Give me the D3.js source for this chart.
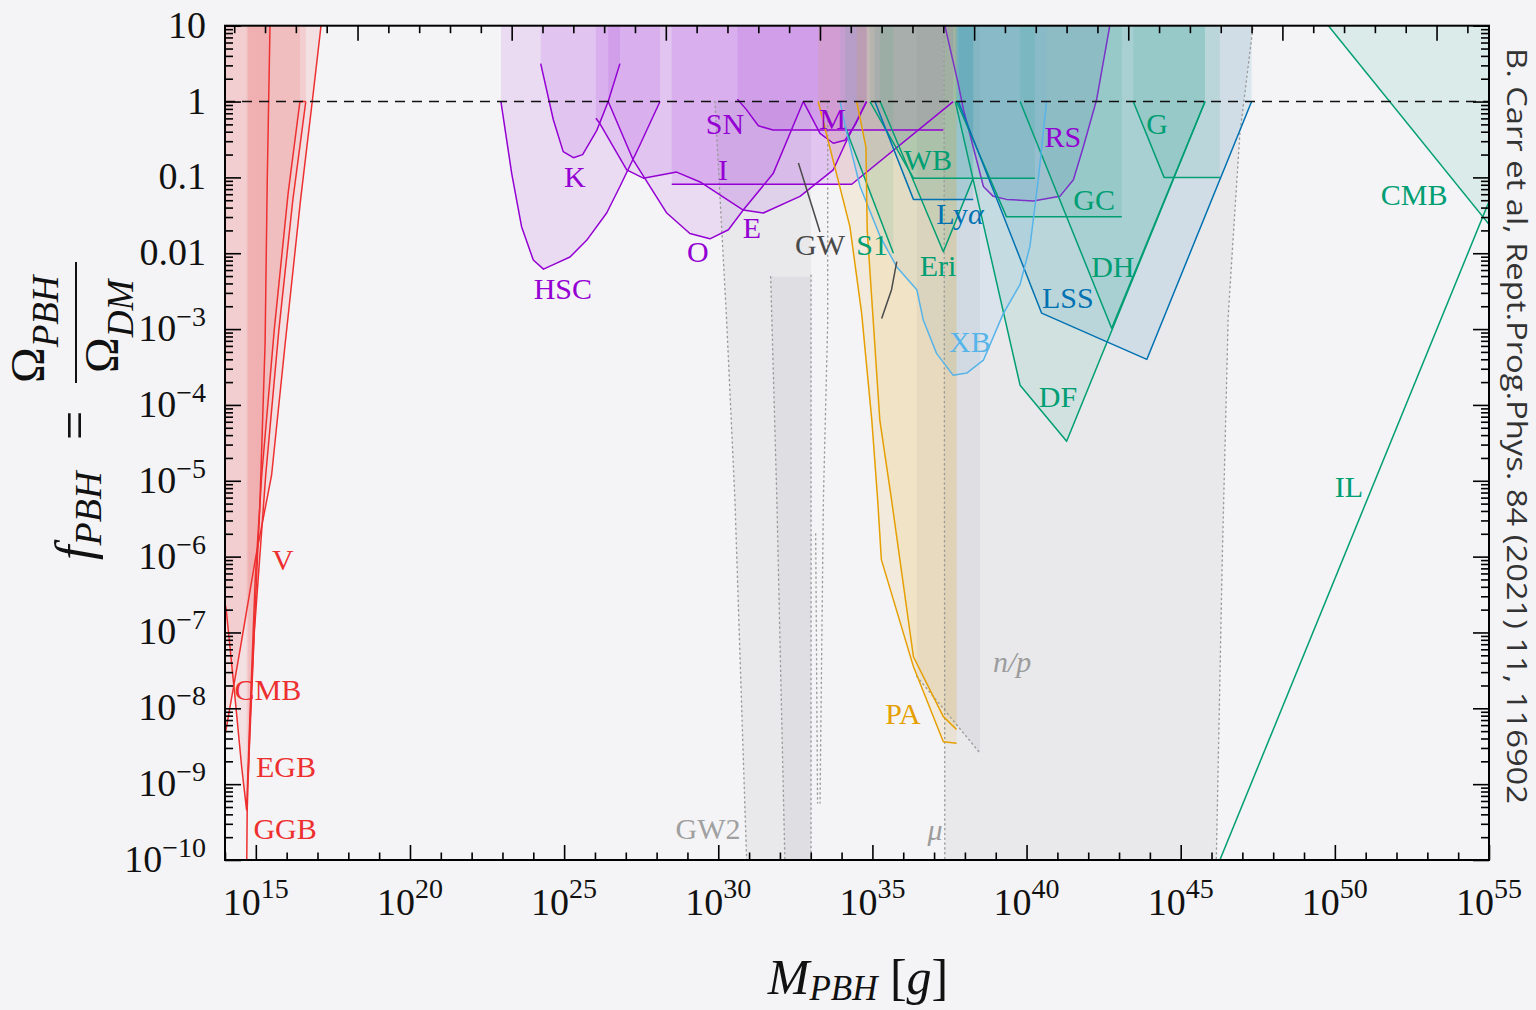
<!DOCTYPE html>
<html>
<head>
<meta charset="utf-8">
<script src="https://cdn.jsdelivr.net/npm/d3@7/dist/d3.min.js"></script>
<style>
  body { margin: 0; background: #f4f4f6; }
  svg { display: block; font-family: "Liberation Serif", "Times New Roman", serif; }
</style>
</head>
<body>
<svg id="chart" width="1536" height="1010"></svg>
<script>
// all points are [log10(M / g), log10(f_PBH)]

// evaporation (red)
var evGGB = [[14.70,-10.3],[14.72,-9.34],[14.81,-8.20],[14.97,-6.77],[15.13,-5.34],[15.30,-3.20],[15.37,-1.06],[15.46,1],[15.47,1.3]];
var evEGB = [[13.9,-6.4],[14.04,-6.70],[14.32,-7.84],[14.54,-8.77],[14.70,-9.34],[14.80,-8.2],[14.98,-6.3],[15.19,-4.93],[15.6,-3.0],[16.05,-1.2],[16.43,0]];
var evCMB = [[14.75,-8.9],[14.95,-7.0],[15.32,-4.93],[15.75,-3.0],[16.2,-1.3],[16.62,0]];
var evV = [[13.95,-8.45],[14.03,-8.29],[14.5,-7.2],[15.0,-6.0],[15.51,-4.93],[15.95,-3.2],[16.45,-1.3],[16.83,0],[17.2,1.3]];
var evCap = [[16.43,0],[16.62,0]];

// lensing (purple)
var lnHSC = [[22.95,0],[23.30,-0.95],[23.62,-1.65],[24.0,-2.09],[24.33,-2.21],[24.65,-2.15],[25.19,-2.05],[25.73,-1.83],[26.38,-1.47],[26.81,-1.12],[27.45,-0.58],[28.11,0]];
var lnK = [[24.24,0.5],[24.65,-0.24],[24.97,-0.66],[25.30,-0.74],[25.60,-0.70],[26.06,-0.38],[26.43,0],[26.81,0.5]];
var lnE = [[26.03,-0.22],[26.16,-0.29],[27.03,-0.90],[27.57,-1.01],[28.65,-0.93],[29.41,-1.06],[30.81,-1.43],[31.46,-1.47],[32.65,-1.25],[33.73,-0.90],[34.17,-0.51],[34.81,0]];
var lnO = [[26.43,0],[27.24,-0.77],[28.33,-1.47],[29.08,-1.74],[29.73,-1.81],[30.33,-1.69],[30.81,-1.43],[31.78,-0.95],[32.76,0]];
var lnM = [[32.76,0],[33.30,-0.42],[33.73,-0.55],[34.11,-0.51],[34.45,-0.30],[34.81,0]];
var lnSN = [[30.62,0.03],[30.9,-0.1],[31.30,-0.32],[31.78,-0.375],[37.30,-0.375]];
var lnI = [[28.49,-1.09],[34.33,-1.09],[37.62,0]];
var lnRS = [[37.35,1],[37.78,0.24],[37.95,-0.1],[38.27,-0.60],[38.60,-1.12],[38.92,-1.25],[39.35,-1.29],[40.22,-1.31],[41.08,-1.25],[41.52,-1.03],[41.84,-0.60],[42.27,0.02],[42.70,1],[42.75,1.3]];

// dynamical / other (green, blue)
var dyS1 = [[34.11,-0.33],[35.68,-2.0]];
var dyWB = [[34.92,0],[36.33,-1.01],[40.27,-1.01]];
var dyEri = [[35.25,0],[37.30,-1.98],[38.27,-1.01]];
var dyGC = [[37.73,0],[39.35,-1.52],[43.09,-1.52]];
var dyDH = [[39.79,0],[42.76,-2.99],[45.79,0]];
var dyDF = [[37.69,0],[39.79,-3.74],[41.30,-4.48],[45.79,0]];
var dyG = [[43.46,0],[44.46,-1.0],[46.27,-1.0]];
var cmbHigh = [[49.59,1.1],[55.2,-1.72]];
var ilLine = [[46.1,-10.17],[55.2,-1.12]];
var lyA = [[35.08,0],[36.33,-1.29],[38.27,-1.29]];
var lss = [[37.79,0],[40.49,-2.79],[43.90,-3.40],[47.30,0]];

// X-ray binaries (light blue)
var xb = [[33.95,0],[34.17,-0.42],[34.60,-1.12],[35.25,-1.78],[35.79,-2.18],[36.44,-2.48],[36.65,-2.88],[37.08,-3.32],[37.62,-3.61],[38.06,-3.58],[38.60,-3.41],[39.24,-2.80],[39.79,-2.41],[40.11,-1.91],[40.38,-1.03],[40.65,0]];

// accretion (orange)
var paA = [[33.24,0],[34.27,-1.65],[34.65,-2.79],[34.98,-4.20],[35.17,-5.25],[35.29,-6.04],[36.33,-7.45],[37.30,-8.44],[37.73,-8.46]];
var paB = [[34.49,0],[34.79,-0.60],[34.83,-1.69],[35.24,-4.20],[35.62,-5.25],[36.33,-7.32],[37.30,-8.11],[37.73,-8.28]];

// gravitational waves (dark grey lines)
var gwA = [[32.60,-0.81],[33.30,-1.72]];
var gwB = [[35.79,-2.11],[35.62,-2.48],[35.30,-2.86]];

// grey dotted regions
var gw2Left = [[29.89,0],[30.27,-2.88],[30.54,-5.25],[30.92,-10],[30.93,-10.3]];
var gw2Mid = [[31.70,-2.31],[31.90,-5.25],[32.16,-10],[32.17,-10.3]];
var gw2Edge = [[33.01,-2.29],[33.01,-10.3]];
var gw2Far = [[33.55,0],[33.55,-2.9],[33.41,-5.25],[33.30,-9.25]];
var gw2Inner = [[33.16,-5.7],[33.22,-9.25]];
var muEdge = [[37.32,1.3],[37.35,-10.3]];
var npEdge = [[46.14,-10.3],[46.35,-6],[46.54,-2.84],[46.71,-1.74],[46.92,-0.42],[47.35,1],[47.4,1.3]];
var npDiag = [[36.44,-7.58],[38.49,-8.59]];

var RED = "#ee2f2f", PUR = "#9400d3", RSC = "#7b32c9", GRN = "#009e73", BLU = "#0072b2",
    LBL = "#56b4e9", ORA = "#e69f00", GRY = "#9b9b9b", DGR = "#4a4a4a";

var svg = d3.select("#chart");
var x = d3.scaleLog().domain([1e14, 1e55]).range([225, 1489]);
var y = d3.scaleLog().domain([1e-10, 10]).range([860, 25.7]);
function X(d) { return x(Math.pow(10, d[0])); }
function Y(d) { return y(Math.pow(10, d[1])); }
var line = d3.line().x(X).y(Y);
var TOP = 1.3;
function toTop(p) { return p.concat([[p[p.length - 1][0], TOP], [p[0][0], TOP]]); }

svg.append("rect").attr("width", 1536).attr("height", 1010).attr("fill", "#f4f4f6");
svg.append("clipPath").attr("id", "plotclip").append("rect")
  .attr("x", 225).attr("y", 25.7).attr("width", 1264).attr("height", 834.3);
var plot = svg.append("g").attr("clip-path", "url(#plotclip)");

// grey regions
var greyAreas = [
  gw2Left.concat([[33.01,-10.3],[33.01,0]]),
  gw2Mid.concat([[33.01,-10.3],[33.01,-2.31]]),
  muEdge.concat(npEdge),
  npDiag.concat([[38.49,TOP],[36.44,TOP]])
];
plot.selectAll(".grey").data(greyAreas).enter().append("path")
  .attr("d", function(d) { return line(d) + "Z"; })
  .attr("fill", "#9a9aa2").attr("fill-opacity", 0.12);

// coloured exclusion regions
var curves = [
  { p: evGGB, c: RED }, { p: evEGB, c: RED }, { p: evCMB, c: RED }, { p: evV, c: RED },
  { p: lnHSC, c: PUR }, { p: lnK, c: PUR }, { p: lnE, c: PUR }, { p: lnO, c: PUR },
  { p: lnM, c: PUR }, { p: lnSN, c: PUR }, { p: lnI, c: PUR }, { p: lnRS, c: RSC },
  { p: dyS1, c: GRN }, { p: dyWB, c: GRN }, { p: dyEri, c: GRN }, { p: dyGC, c: GRN },
  { p: dyDH, c: GRN }, { p: dyDF, c: GRN }, { p: dyG, c: GRN },
  { p: lyA, c: BLU }, { p: lss, c: BLU }, { p: xb, c: LBL },
  { p: paA, c: ORA }, { p: paB, c: ORA }
];
plot.selectAll(".fill").data(curves).enter().append("path")
  .attr("d", function(d) { return line(toTop(d.p)) + "Z"; })
  .attr("fill", function(d) { return d.c; })
  .attr("fill-opacity", 0.1);
plot.append("path")
  .attr("d", line(cmbHigh.concat([[55.2, TOP], [49.59, TOP]])) + "Z")
  .attr("fill", GRN).attr("fill-opacity", 0.1);

// dotted boundaries
[gw2Left, gw2Mid, gw2Edge, gw2Far, gw2Inner, muEdge, npEdge, npDiag].forEach(function(p) {
  plot.append("path").attr("d", line(p)).attr("fill", "none")
    .attr("stroke", GRY).attr("stroke-width", 1.4)
    .attr("stroke-dasharray", "1.2,3.6").attr("stroke-linecap", "round");
});

// constraint curves
plot.selectAll(".curve").data(curves.concat([
    { p: evCap, c: RED }, { p: cmbHigh, c: GRN }, { p: ilLine, c: GRN },
    { p: gwA, c: DGR }, { p: gwB, c: DGR }
  ])).enter().append("path")
  .attr("d", function(d) { return line(d.p); })
  .attr("fill", "none")
  .attr("stroke", function(d) { return d.c; })
  .attr("stroke-width", 1.5)
  .attr("stroke-linejoin", "round");

// f = 1 line
plot.append("line")
  .attr("x1", 225).attr("x2", 1489).attr("y1", y(1)).attr("y2", y(1))
  .attr("stroke", "#111").attr("stroke-width", 1.5).attr("stroke-dasharray", "10,7");

// region labels [text, log10 M, log10 f, colour, style]
var labels = [
  ["V", 15.88, -6.18, RED], ["CMB", 15.39, -7.89, RED], ["EGB", 15.98, -8.91, RED], ["GGB", 15.95, -9.72, RED],
  ["HSC", 24.96, -2.60, PUR], ["K", 25.35, -1.13, PUR], ["SN", 30.22, -0.43, PUR], ["I", 30.15, -1.03, PUR],
  ["O", 29.34, -2.12, PUR], ["E", 31.09, -1.80, PUR], ["M", 33.71, -0.36, PUR], ["RS", 41.18, -0.60, PUR],
  ["GW", 33.30, -2.02, DGR], ["S1", 34.99, -2.02, GRN], ["WB", 36.80, -0.90, GRN],
  ["Ly", 37.84, -1.61, BLU, "lya"], ["Eri", 37.13, -2.30, GRN], ["XB", 38.16, -3.30, LBL],
  ["PA", 35.99, -8.21, ORA], ["n/p", 39.53, -7.52, "#9c9c9c", "it"], ["\u03bc", 37.03, -9.74, "#9c9c9c", "it"],
  ["GW2", 29.67, -9.72, "#a0a0a0"], ["G", 44.23, -0.43, GRN], ["GC", 42.19, -1.43, GRN],
  ["DH", 42.80, -2.31, GRN], ["LSS", 41.34, -2.72, BLU], ["DF", 41.02, -4.03, GRN],
  ["CMB", 52.57, -1.36, GRN], ["IL", 50.46, -5.21, GRN]
];
var lab = svg.selectAll(".lab").data(labels).enter().append("text")
  .attr("x", function(d) { return X([d[1], 0]); })
  .attr("y", function(d) { return Y([0, d[2]]); })
  .attr("text-anchor", "middle")
  .attr("font-size", 30)
  .attr("fill", function(d) { return d[3]; })
  .attr("font-style", function(d) { return d[4] === "it" ? "italic" : null; })
  .text(function(d) { return d[0]; });
lab.filter(function(d) { return d[4] === "lya"; }).append("tspan")
  .attr("font-style", "italic").text("\u03b1");

// axes
var frame = svg.append("g");
var xMajor = d3.range(15, 56, 5).map(function(e) { return Math.pow(10, e); });
var xMinor = d3.range(14, 56).filter(function(e) { return e % 5 !== 0; }).map(function(e) { return Math.pow(10, e); });
var LMSUN = 33.2986;
var topMajor = [], topMinor = [];
d3.range(-19, 22).forEach(function(n) {
  (n % 5 === 0 ? topMajor : topMinor).push(Math.pow(10, LMSUN + n));
});
var yMajor = d3.range(-10, 2).map(function(e) { return Math.pow(10, e); });
var yMinor = [];
d3.range(-10, 1).forEach(function(e) {
  d3.range(2, 10).forEach(function(k) { yMinor.push(k * Math.pow(10, e)); });
});

function ticks(axis, vals, len, tr) {
  var g = frame.append("g").attr("transform", tr)
    .call(axis.tickValues(vals).tickSize(-len).tickFormat(""));
  g.select(".domain").remove();
  g.selectAll("line").attr("stroke", "#000").attr("stroke-width", 1.6);
}
ticks(d3.axisBottom(x), xMajor, 15, "translate(0,860)");
ticks(d3.axisBottom(x), xMinor, 7.5, "translate(0,860)");
ticks(d3.axisTop(x), topMajor, 15, "translate(0,25.7)");
ticks(d3.axisTop(x), topMinor, 7.5, "translate(0,25.7)");
ticks(d3.axisLeft(y), yMajor, 16, "translate(225,0)");
ticks(d3.axisLeft(y), yMinor, 8, "translate(225,0)");
ticks(d3.axisRight(y), yMajor, 16, "translate(1489,0)");
ticks(d3.axisRight(y), yMinor, 8, "translate(1489,0)");

frame.append("rect").attr("x", 225).attr("y", 25.7).attr("width", 1264).attr("height", 834.3)
  .attr("fill", "none").attr("stroke", "#000").attr("stroke-width", 2);

// tick labels
xMajor.forEach(function(v) {
  var t = svg.append("text").attr("x", x(v)).attr("y", 915)
    .attr("text-anchor", "middle").attr("font-size", 38).attr("fill", "#111");
  t.append("tspan").text("10");
  t.append("tspan").attr("dy", -17).attr("font-size", 28).text(Math.round(Math.log10(v)));
});
yMajor.forEach(function(v) {
  var e = Math.round(Math.log10(v));
  var t = svg.append("text").attr("x", 206).attr("y", y(v) + 12)
    .attr("text-anchor", "end").attr("font-size", 38).attr("fill", "#111");
  if (e === 1) t.text("10");
  else if (e === 0) t.text("1");
  else if (e === -1) t.text("0.1");
  else if (e === -2) t.text("0.01");
  else {
    t.append("tspan").text("10");
    t.append("tspan").attr("dy", -15).attr("font-size", 28).text("\u2212" + (-e));
  }
});

// x title
var xt = svg.append("text").attr("x", 858).attr("y", 994).attr("text-anchor", "middle")
  .attr("font-size", 50).attr("fill", "#111");
xt.append("tspan").attr("font-style", "italic").text("M");
xt.append("tspan").attr("font-style", "italic").attr("font-size", 35).attr("dy", 6).text("PBH");
xt.append("tspan").attr("dy", -6).text(" [");
xt.append("tspan").attr("font-style", "italic").text("g");
xt.append("tspan").text("]");

// y title
var yt = svg.append("g").attr("transform", "translate(78,560) rotate(-90)").attr("fill", "#111");
var f1 = yt.append("text").attr("x", 0).attr("y", 14).attr("font-size", 52).attr("font-style", "italic");
f1.append("tspan").text("f");
f1.append("tspan").attr("font-size", 38).attr("dy", 9).text("PBH");
yt.append("text").attr("x", 120).attr("y", 14).attr("font-size", 52).text("=");
yt.append("line").attr("x1", 177).attr("x2", 298).attr("y1", -2).attr("y2", -2)
  .attr("stroke", "#111").attr("stroke-width", 2);
var num = yt.append("text").attr("x", 177).attr("y", -34).attr("font-size", 48);
num.append("tspan").text("\u03a9");
num.append("tspan").attr("font-size", 37).attr("font-style", "italic").attr("dy", 14).text("PBH");
var den = yt.append("text").attr("x", 187).attr("y", 40).attr("font-size", 48);
den.append("tspan").text("\u03a9");
den.append("tspan").attr("font-size", 37).attr("font-style", "italic").attr("dy", 15).text("DM");

// citation
svg.append("text").attr("transform", "translate(1507,48) rotate(90)")
  .attr("font-family", "'Open Sans', 'DejaVu Sans', sans-serif")
  .attr("font-size", 27).attr("fill", "#333")
  .attr("textLength", 756).attr("lengthAdjust", "spacingAndGlyphs")
  .text("B. Carr et al, Rept.Prog.Phys. 84 (2021) 11, 116902");
</script>
</body>
</html>
